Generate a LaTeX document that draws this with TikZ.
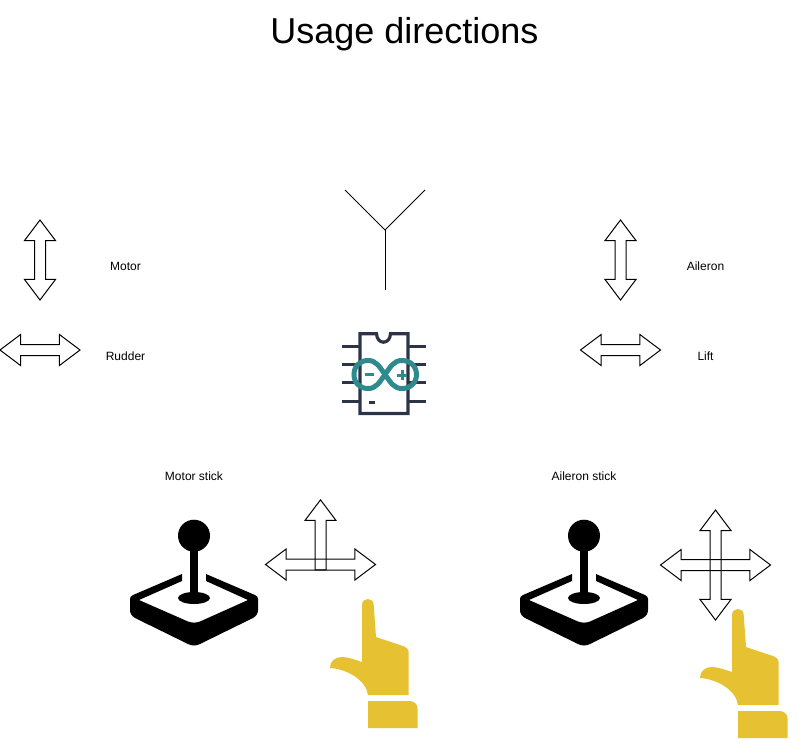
\documentclass[tikz,border=0pt]{standalone}
\usepackage{fontspec}
\setmainfont{Liberation Sans}
\usetikzlibrary{shapes.arrows}
\definecolor{chipblue}{HTML}{2E3448}
\definecolor{loopteal}{HTML}{2F8A8E}
\definecolor{handyellow}{HTML}{E6C131}
\tikzstyle{twoway} = [double arrow, draw=black, line width=1pt, minimum height=80pt, inner xsep=0pt, inner ysep=5pt, outer sep=0pt, double arrow head extend=10pt, double arrow tip angle=74]
\tikzstyle{longway} = [twoway, minimum height=110pt]
\tikzstyle{oneway} = [single arrow, draw=black, line width=1pt, minimum height=70pt, inner xsep=0pt, inner ysep=5pt, outer sep=0pt, single arrow head extend=10pt, single arrow tip angle=74]
\tikzstyle{labeltext} = [font=\fontsize{12}{14}\selectfont, inner sep=0pt]
\tikzset{
    joystick/.pic={
        \fill[black] (64,5.7) circle (16);
        \fill[black] (60,5.7) rectangle (68,68);
        \fill[black] (64,68) ellipse (16 and 6);
        \fill[black] (52,44) -- (3,65) .. controls (1,66) and (0,67) .. (0,69) -- (0,80)
            .. controls (0,84) and (2,86) .. (5,88) -- (58,114) .. controls (62,116) and (66,116) .. (70,114)
            -- (123,88) .. controls (126,86) and (128,84) .. (128,80) -- (128,69)
            .. controls (128,67) and (127,66) .. (125,65) -- (76,44) -- (76,51) -- (118,70)
            -- (70,91.5) .. controls (66,93) and (62,93) .. (58,91.5) -- (9,70) -- (52,51) -- cycle;
    },
    pointer/.pic={
        \fill[handyellow] (0,0) .. controls (0,-8) and (11.7,-8) .. (11.7,0) -- (14,32) -- (41,41)
            .. controls (44.5,42.5) and (46.7,44) .. (46.7,48) -- (46.7,90) -- (6,90)
            .. controls (4,75) and (-15,64) .. (-32,63) .. controls (-32,56) and (-27,52) .. (-20,52)
            .. controls (-14,52) and (-6,55) .. (0,57) -- cycle;
        \fill[handyellow] (6,96) -- (47,96) .. controls (52,96) and (55.7,99) .. (55.7,104) -- (55.7,123) -- (6,123) -- cycle;
    }
}

\begin{document}
\begin{tikzpicture}[x=1pt, y=-1pt, node distance=90pt]

    \useasboundingbox (0,0) rectangle (809,739);

    % Title
    \node (title) [inner sep=0pt, font=\fontsize{36}{40}\selectfont] at (404.5,34) {Usage directions};

    % Direction arrows
    \node (motorArrow) [twoway, rotate=90] at (40,260) {};
    \node (rudderArrow) [twoway, below of=motorArrow] {};
    \node (aileronArrow) [twoway, rotate=90] at (620.5,260) {};
    \node (liftArrow) [twoway, below of=aileronArrow] {};

    % Labels
    \node (motorText) [labeltext] at (125.5,266) {Motor};
    \node (rudderText) [labeltext, below of=motorText] {Rudder};
    \node (aileronText) [labeltext] at (705.5,266) {Aileron};
    \node (liftText) [labeltext, below of=aileronText] {Lift};
    \node (motorStick) [labeltext] at (194,476) {Motor stick};
    \node (aileronStick) [labeltext] at (584,476) {Aileron stick};

    % Antenna
    \coordinate (antennaFork) at (385,230);
    \draw [line width=0.9pt] (345,190) -- (antennaFork) -- (425,190);
    \draw [line width=0.9pt] (antennaFork) -- (385,290);

    % Chip
    \draw [chipblue, line width=3.2pt] (360,333.7) -- (376.5,333.7) .. controls (377,345) and (390,345) .. (390.5,333.7) -- (408,333.7) -- (408,413.5) -- (360,413.5) -- cycle;
    \foreach \yy in {346,364.5,382.7,401} {
        \draw [chipblue, line width=3pt] (342,\yy) -- (360,\yy);
        \draw [chipblue, line width=3pt] (408,\yy) -- (426,\yy);
    }
    \draw [chipblue, line width=3pt] (368.5,402) -- (375,402);

    % Infinity
    \draw [loopteal, line width=5pt] (385,374.5)
        .. controls (379,366) and (376,360.5) .. (368,360.5)
        .. controls (360,360.5) and (354,366) .. (354,374.5)
        .. controls (354,383) and (360,388.5) .. (368,388.5)
        .. controls (376,388.5) and (379,383) .. (385,374.5)
        .. controls (391,366) and (394,360.5) .. (402,360.5)
        .. controls (410,360.5) and (416.5,366) .. (416.5,374.5)
        .. controls (416.5,383) and (410,388.5) .. (402,388.5)
        .. controls (394,388.5) and (391,383) .. (385,374.5);
    \draw [loopteal, line width=3pt] (364.5,374.5) -- (373.5,374.5);
    \draw [loopteal, line width=3pt] (397,375) -- (407,375);
    \draw [loopteal, line width=3pt] (402,370) -- (402,380);

    % Sticks
    \pic at (130,530) {joystick};
    \pic at (520,530) {joystick};
    \pic at (362,605) {pointer};
    \pic at (732,615) {pointer};

    % Stick arrows
    \node (motorSide) [longway] at (320.5,564.5) {};
    \node (motorUp) [oneway, rotate=90] at (320.5,538.5) {};
    \node (aileronSide) [longway] at (715.5,565) {};
    \node (aileronUp) [longway, rotate=90] at (715.5,565) {};

\end{tikzpicture}
\end{document}
